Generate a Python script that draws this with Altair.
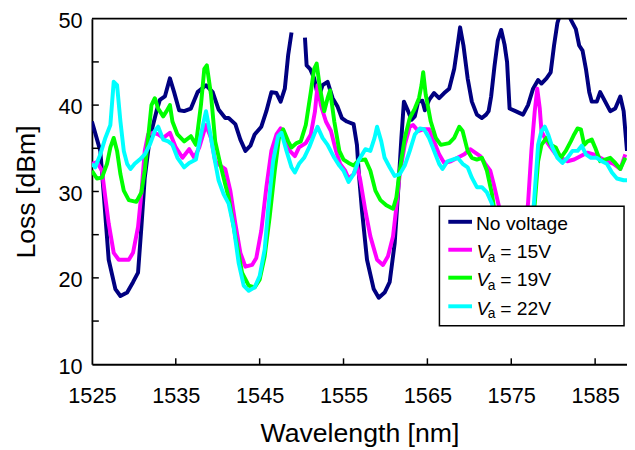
import altair as alt
import pandas as pd

# ---------------- data ----------------
NV_WL = [1525.0, 1526.0, 1526.4, 1527.0, 1527.8, 1528.4, 1529.2, 1529.9, 1530.5, 1530.9,
         1531.3, 1531.9, 1532.7, 1533.1, 1533.7, 1534.3, 1534.8, 1535.4, 1536.0, 1536.8,
         1537.6, 1538.6, 1539.4, 1540.1, 1540.9, 1541.3, 1542.1, 1542.7, 1543.3, 1543.9,
         1544.4, 1545.2, 1545.8, 1546.4, 1547.0, 1547.5, 1548.0, 1548.4, 1548.8, 1549.6,
         1550.4, 1550.6, 1551.0, 1551.5, 1552.0, 1552.5, 1553.1, 1553.7, 1554.3, 1554.8,
         1555.4, 1556.2, 1556.6, 1556.8, 1557.2, 1557.8, 1558.6, 1559.2, 1559.9, 1560.5,
         1561.1, 1561.5, 1561.9, 1562.2, 1562.7, 1563.1, 1563.5, 1563.9, 1564.4, 1564.7,
         1565.2, 1565.8, 1566.4, 1567.0, 1567.6, 1568.2, 1568.6, 1568.9, 1569.3, 1569.8,
         1570.3, 1570.9, 1571.5, 1572.0, 1572.3, 1572.6, 1573.0, 1573.4, 1573.8, 1574.2,
         1574.5, 1574.8, 1575.5, 1576.4, 1577.0, 1577.6, 1578.2, 1578.6, 1579.2, 1579.7,
         1580.1, 1580.5, 1581.3, 1582.1, 1582.7, 1583.1, 1583.5, 1583.9, 1584.3, 1584.6,
         1585.2, 1585.6, 1586.2, 1586.8, 1587.4, 1588.0, 1588.4, 1588.8]
NV_LOSS = [38.1, 34.7, 29.8, 22.1, 18.7, 17.9, 18.3, 19.5, 20.6, 25.9,
           31.6, 36.2, 39.3, 40.6, 41.0, 43.1, 41.5, 39.4, 39.3, 39.6,
           41.5, 42.3, 41.5, 39.5, 38.5, 38.5, 37.8, 36.0, 34.7, 35.3,
           36.6, 37.5, 39.3, 41.5, 41.4, 40.4, 41.9, 45.8, 48.4, None,
           47.8, 44.6, 44.2, 43.1, 40.8, 42.3, 42.7, 40.8, 39.8, 38.5,
           38.1, 37.8, 35.4, 32.4, 27.8, 22.1, 18.7, 17.7, 18.3, 19.5,
           24.0, 29.8, 36.2, 40.4, 39.3, 38.3, 38.7, 40.4, 40.5, 39.4,
           40.6, 41.4, 40.8, 41.4, 41.9, 44.2, 46.9, 49.0, 46.9, 43.1,
           40.4, 38.9, 38.5, 38.9, 39.3, 41.0, 44.5, 47.5, 48.7, 47.0,
           45.0, 39.6, 39.3, 38.9, 40.0, 41.9, 42.9, 42.5, 43.1, 43.8,
           46.9, 49.5, 52.0, 49.9, 48.8, 46.9, 46.3, 44.2, 41.5, 40.4,
           40.4, 41.5, 40.4, 39.3, 39.6, 41.0, 39.3, 34.7]

V15_WL = [1525.0, 1525.6, 1526.2, 1526.6, 1527.0, 1527.6, 1528.2, 1529.4, 1529.9, 1530.5,
          1530.9, 1531.3, 1531.7, 1532.3, 1532.9, 1533.5, 1534.3, 1535.0, 1535.8, 1536.6,
          1537.2, 1537.8, 1538.6, 1539.2, 1539.7, 1540.3, 1540.9, 1541.5, 1542.1, 1542.7,
          1543.3, 1544.1, 1544.6, 1545.2, 1545.8, 1546.4, 1547.0, 1547.5, 1548.0, 1548.6,
          1549.2, 1549.7, 1550.5, 1551.1, 1551.6, 1551.9, 1552.3, 1552.9, 1553.5, 1554.1,
          1554.6, 1555.2, 1555.6, 1556.2, 1556.6, 1557.0, 1557.6, 1558.2, 1559.0, 1559.7,
          1560.3, 1560.9, 1561.3, 1561.7, 1562.3, 1562.9, 1563.3, 1563.9, 1564.5, 1565.2,
          1565.8, 1566.4, 1567.0, 1567.8, 1568.6, 1569.4, 1570.1, 1570.7, 1571.3, 1571.9,
          1572.5, 1572.9, 1573.6, 1574.3, 1575.2, 1576.2, 1576.8, 1577.0, 1577.4, 1577.8,
          1578.1, 1578.4, 1578.6, 1579.2, 1579.7, 1580.3, 1580.9, 1581.7, 1582.5, 1583.3,
          1584.1, 1584.8, 1585.6, 1586.4, 1587.2, 1588.0, 1588.6]
V15_LOSS = [33.2, 33.4, 32.4, 29.3, 26.3, 22.9, 22.1, 22.1, 22.9, 25.9,
            29.8, 34.7, 36.6, 36.8, 36.6, 36.2, 36.8, 35.1, 33.9, 34.9,
            33.9, 35.1, 37.7, 36.2, 33.5, 33.0, 32.6, 30.1, 26.3, 22.9,
            21.3, 21.5, 22.3, 25.5, 30.5, 34.7, 36.6, 37.3, 36.2, 34.7,
            34.1, 35.1, 35.6, 36.6, 39.3, 42.3, 40.0, 38.1, 37.0, 34.7,
            33.2, 32.4, 31.5, 32.0, 33.0, 31.3, 27.8, 24.8, 22.1, 21.5,
            22.5, 24.8, 28.2, 32.0, 35.4, 37.5, 37.7, 37.0, 37.2, 37.2,
            35.8, 34.3, 33.3, 33.5, 33.9, 34.3, 34.9, 34.5, 34.1, 33.2,
            32.4, 30.9, 28.0, 22.5, 21.0, 23.0, 27.0, 28.6, 34.7, 39.3,
            41.9, 39.6, 37.0, 35.8, 35.1, 34.3, 33.9, 33.5, 33.7, 34.1,
            34.5, 34.3, 33.9, 33.5, 33.2, 32.6, 34.3]

V19_WL = [1525.0, 1525.6, 1526.2, 1526.8, 1527.2, 1527.6, 1528.0, 1528.4, 1528.8, 1529.4,
          1530.3, 1530.9, 1531.3, 1531.7, 1532.1, 1532.5, 1532.9, 1533.5, 1533.9, 1534.3,
          1534.6, 1535.2, 1536.0, 1536.8, 1537.4, 1538.0, 1538.4, 1538.7, 1539.2, 1539.7,
          1540.3, 1540.9, 1541.3, 1542.1, 1542.9, 1543.7, 1544.4, 1545.0, 1545.6, 1546.2,
          1546.8, 1547.3, 1547.8, 1548.4, 1548.8, 1549.4, 1549.9, 1550.5, 1551.1, 1551.5,
          1551.8, 1552.2, 1552.7, 1553.1, 1553.4, 1553.9, 1554.5, 1555.0, 1555.6, 1556.2,
          1556.8, 1557.6, 1558.2, 1558.8, 1559.4, 1560.1, 1560.9, 1561.3, 1561.7, 1562.3,
          1562.9, 1563.5, 1564.0, 1564.3, 1564.5, 1564.8, 1565.4, 1566.0, 1566.6, 1567.6,
          1568.2, 1568.8, 1569.2, 1569.8, 1570.3, 1570.9, 1571.5, 1572.1, 1572.7, 1573.5,
          1574.5, 1575.6, 1576.7, 1577.4, 1577.8, 1578.2, 1578.6, 1579.2, 1579.7, 1580.3,
          1580.9, 1581.5, 1582.1, 1582.5, 1582.9, 1583.3, 1583.7, 1584.1, 1584.6, 1585.0,
          1585.6, 1586.2, 1586.8, 1587.4, 1588.0, 1588.6]
V19_LOSS = [32.4, 31.5, 31.6, 33.2, 35.1, 36.2, 34.7, 32.0, 30.1, 29.0,
            28.8, 29.9, 32.4, 36.2, 40.0, 40.8, 39.6, 38.7, 39.3, 40.0,
            38.1, 36.6, 35.8, 36.4, 35.4, 40.0, 44.2, 44.6, 41.2, 35.8,
            33.2, 30.8, 29.3, 24.8, 20.6, 19.1, 18.9, 19.8, 22.5, 27.1,
            32.4, 36.2, 37.2, 35.8, 35.1, 35.6, 35.8, 37.7, 41.5, 44.2,
            44.8, 41.9, 39.3, 40.8, 41.7, 38.1, 34.7, 33.7, 33.3, 33.0,
            33.6, 33.7, 32.4, 30.1, 29.0, 28.4, 28.0, 29.3, 32.4, 36.2,
            38.5, 39.6, 40.8, 42.3, 43.8, 41.2, 38.1, 36.2, 35.4, 35.6,
            36.2, 37.5, 37.0, 34.7, 33.9, 33.7, 33.9, 32.4, 29.7, 24.5,
            20.5, 20.0, 22.0, 25.5, 28.6, 33.5, 35.4, 36.2, 35.4, 35.1,
            33.9, 34.7, 35.8, 36.6, 37.3, 37.2, 35.4, 35.8, 36.0, 35.1,
            33.5, 33.7, 33.9, 33.3, 32.6, 33.9]

V22_WL = [1525.0, 1525.4, 1526.0, 1526.6, 1527.2, 1527.6, 1528.0, 1528.4, 1528.8, 1529.2,
          1529.6, 1530.1, 1530.7, 1531.3, 1531.9, 1532.5, 1532.9, 1533.5, 1534.1, 1534.6,
          1535.2, 1536.0, 1536.6, 1537.4, 1538.0, 1538.6, 1539.0, 1539.6, 1540.1, 1540.7,
          1541.3, 1541.9, 1542.5, 1543.1, 1543.7, 1544.4, 1545.0, 1545.6, 1546.0, 1546.6,
          1547.2, 1547.6, 1548.2, 1548.8, 1549.2, 1549.7, 1550.3, 1550.9, 1551.5, 1551.9,
          1552.5, 1553.1, 1553.9, 1554.5, 1555.0, 1555.6, 1556.2, 1556.8, 1557.6, 1558.2,
          1558.7, 1559.0, 1559.5, 1559.9, 1560.5, 1561.1, 1561.7, 1562.3, 1562.9, 1563.5,
          1564.1, 1564.6, 1565.2, 1565.8, 1566.4, 1566.8, 1567.4, 1568.0, 1568.6, 1569.2,
          1569.8, 1570.3, 1570.9, 1571.5, 1572.1, 1572.7, 1573.5, 1574.4, 1575.5, 1576.6,
          1577.3, 1577.7, 1578.2, 1578.6, 1579.0, 1579.4, 1579.9, 1580.5, 1581.1, 1581.7,
          1582.3, 1582.9, 1583.4, 1583.9, 1584.5, 1585.2, 1585.8, 1586.4, 1587.0, 1587.6,
          1588.4, 1588.8]
V22_LOSS = [33.2, 32.8, 34.3, 36.2, 37.7, 42.7, 42.3, 38.1, 34.7, 33.2,
            32.6, 33.2, 33.7, 34.3, 35.4, 37.0, 37.5, 36.0, 35.8, 35.4,
            33.9, 32.8, 33.3, 33.7, 36.6, 39.3, 37.3, 33.9, 31.3, 29.7,
            28.6, 25.9, 21.7, 19.1, 18.5, 18.9, 20.2, 23.3, 27.8, 33.5,
            36.4, 36.8, 34.7, 32.8, 32.2, 33.2, 33.9, 35.1, 36.6, 37.5,
            36.2, 35.4, 33.9, 33.0, 32.4, 31.1, 32.0, 33.6, 34.9, 34.7,
            36.2, 37.5, 35.8, 33.9, 32.8, 31.8, 32.0, 33.0, 34.7, 36.6,
            37.3, 37.2, 36.2, 34.7, 33.2, 32.6, 33.5, 33.7, 33.9, 33.2,
            32.8, 31.6, 30.5, 30.5, 29.9, 28.6, 24.0, 20.0, 19.5, 21.5,
            25.0, 28.6, 35.4, 37.0, 37.5, 36.6, 35.1, 33.9, 33.3, 33.9,
            34.7, 34.7, 35.3, 34.3, 33.9, 33.9, 33.5, 33.2, 32.2, 31.5,
            31.3, 31.3]

SERIES_NAMES = ["No voltage", "15V", "19V", "22V"]
SERIES_COLORS = ["#000080", "#ff00ff", "#00ff00", "#00ffff"]

X_TICKS = [1525, 1535, 1545, 1555, 1565, 1575, 1585]
Y_LABELS = [10, 20, 30, 40, 50]
Y_TICKS = [15, 20, 25, 30, 35, 40, 45]
X_DOMAIN = [1525, 1588.8]
Y_DOMAIN = [10, 50]

# ---------------- layout ----------------
W, H = 542, 350
FONT = "Liberation Sans"

x_scale = alt.Scale(domain=X_DOMAIN, nice=False, zero=False)
y_scale = alt.Scale(domain=Y_DOMAIN, nice=False, zero=False)

x_axis = alt.Axis(values=X_TICKS, format="d", title="Wavelength [nm]", ticks=False, tickSize=0,
                  grid=False, labelFontSize=22, labelPadding=39, labelBaseline="alphabetic",
                  labelFlush=False, labelOverlap=False, labelColor="black",
                  titleFontSize=27, titleFontWeight="normal", titleColor="black",
                  titleBaseline="alphabetic", titleY=78,
                  domainColor="black", domainWidth=1.8)
y_axis = alt.Axis(values=Y_LABELS, format="d", title="Loss [dBm]", ticks=False, tickSize=0,
                  grid=False, labelFontSize=22, labelPadding=10, labelOffset=2, labelFlush=False,
                  labelOverlap=False, labelColor="black",
                  titleFontSize=27, titleFontWeight="normal", titleColor="black",
                  titleBaseline="alphabetic", titleX=-58,
                  domainColor="black", domainWidth=1.8)


def series_frame(wl, loss):
    rows, s = [], 0
    for w, l in zip(wl, loss):
        if l is None:
            s += 1
            continue
        rows.append({"wl": w, "loss": l, "seg": s})
    return pd.DataFrame(rows)


X_ENC = alt.X("wl:Q", scale=x_scale, axis=x_axis)
Y_ENC = alt.Y("loss:Q", scale=y_scale, axis=y_axis)

layers = []
for wl, loss, color in zip([NV_WL, V15_WL, V19_WL, V22_WL],
                           [NV_LOSS, V15_LOSS, V19_LOSS, V22_LOSS], SERIES_COLORS):
    layers.append(
        alt.Chart(series_frame(wl, loss)).mark_line(color=color, strokeWidth=4, clip=True,
                                                   strokeJoin="round").encode(
            x=X_ENC, y=Y_ENC, detail="seg:N",
        )
    )

one = pd.DataFrame({"k": [0]})

# inner ticks
layers.append(alt.Chart(pd.DataFrame({"wl": X_TICKS[1:]})).mark_rule(color="black", strokeWidth=1.5).encode(
    x=X_ENC, y=alt.value(H), y2=alt.value(H - 6)))
layers.append(alt.Chart(pd.DataFrame({"loss": Y_TICKS})).mark_rule(color="black", strokeWidth=1.5).encode(
    y=Y_ENC, x=alt.value(0), x2=alt.value(7)))
# top border
layers.append(alt.Chart(one).mark_rule(color="black", strokeWidth=1.8).encode(
    x=alt.value(0), x2=alt.value(W), y=alt.value(0)))

# legend
LX0, LX1, LY0, LY1 = 352, 539, 190, 311
ROWS = [205.7, 234.0, 262.3, 291.3]
layers.append(alt.Chart(one).mark_rect(fill="white", stroke="black", strokeWidth=1.5).encode(
    x=alt.value(LX0), x2=alt.value(LX1), y=alt.value(LY0), y2=alt.value(LY1)))
for i, (name, color) in enumerate(zip(SERIES_NAMES, SERIES_COLORS)):
    r = ROWS[i]
    layers.append(alt.Chart(one).mark_rule(color=color, strokeWidth=4).encode(
        x=alt.value(361), x2=alt.value(385), y=alt.value(r)))
    if i == 0:
        layers.append(alt.Chart(one).mark_text(align="left", baseline="alphabetic", font=FONT,
                                               fontSize=19.5, color="black", text=name).encode(
            x=alt.value(389), y=alt.value(r + 8.5)))
    else:
        layers.append(alt.Chart(one).mark_text(align="left", baseline="alphabetic", font=FONT,
                                               fontSize=19.5, fontStyle="italic", color="black",
                                               text="V").encode(
            x=alt.value(389.5), y=alt.value(r + 8.5)))
        layers.append(alt.Chart(one).mark_text(align="left", baseline="alphabetic", font=FONT,
                                               fontSize=14, color="black", text="a").encode(
            x=alt.value(401), y=alt.value(r + 12)))
        layers.append(alt.Chart(one).mark_text(align="left", baseline="alphabetic", font=FONT,
                                               fontSize=19.5, color="black", text="= " + name).encode(
            x=alt.value(413.5), y=alt.value(r + 8.5)))

chart = alt.layer(*layers).properties(
    width=W, height=H,
    autosize=alt.AutoSizeParams(type="none"),
    padding={"left": 85, "top": 8, "right": 0, "bottom": 84},
    background="white",
).configure_view(stroke=None).configure_axis(labelFont=FONT, titleFont=FONT)

chart.save("out.html", embed_options={"renderer": "svg", "actions": False})
